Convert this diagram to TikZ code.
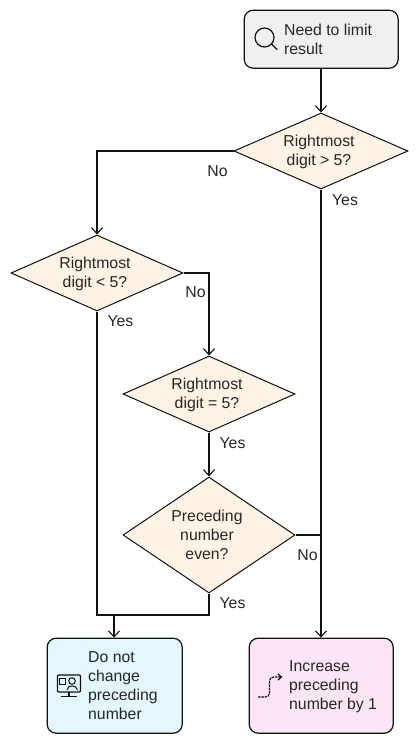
\documentclass[tikz,border=0pt]{standalone}
\usepackage{fontspec}
\setmainfont{Liberation Sans}
\usetikzlibrary{shapes.geometric,arrows.meta}
\definecolor{startfill}{HTML}{F0F0F0}
\definecolor{decfill}{HTML}{FFF3E6}
\definecolor{keepfill}{HTML}{E4F7FF}
\definecolor{incfill}{HTML}{FCE6F5}
\definecolor{ink}{HTML}{111111}
\tikzset{
  x=1pt,y=-1pt,
  txt/.style={font=\fontsize{15.8}{19}\selectfont,text=black!85},
  boxnode/.style={draw=ink,line width=1.2pt,rounded corners=9pt,anchor=north west,inner sep=0pt},
  decision/.style={diamond,draw=ink,line width=1pt,fill=decfill,inner sep=0pt,txt,align=center},
  flow/.style={draw=ink,line width=1.1pt,-{Straight Barb[length=6pt,width=11pt,line width=1.1pt]}},
  plainflow/.style={draw=ink,line width=1.1pt},
  lab/.style={txt,inner sep=0pt},
  icon/.style={draw=ink,line width=1pt},
}
\begin{document}
\begin{tikzpicture}
\useasboundingbox (0,0) rectangle (418,745);
% boxes
\node[boxnode,fill=startfill,minimum width=154pt,minimum height=58pt] (start) at (243.6,9.6) {};
\node[boxnode,fill=keepfill,minimum width=135pt,minimum height=95pt] (keep) at (46.6,637.6) {};
\node[boxnode,fill=incfill,minimum width=144pt,minimum height=95pt] (inc) at (248.6,637.6) {};
% decisions
\node[decision,minimum width=174pt,minimum height=76pt,aspect=2.29] (d1) at (321,151) {};
\node[decision,minimum width=172pt,minimum height=76pt,aspect=2.26] (d2) at (97,273) {};
\node[decision,minimum width=172pt,minimum height=76pt,aspect=2.26] (d3) at (209,394) {};
\node[decision,minimum width=172pt,minimum height=116pt,aspect=1.48] (d4) at (209,535) {};
% texts
\node[txt,align=left,anchor=west,inner sep=0pt] (starttext) at (284,39.5) {Need to limit\\result};
\node[txt,align=center,inner sep=0pt] (d1text) at (319,151.5) {Rightmost\\digit > 5?};
\node[txt,align=center,inner sep=0pt] (d2text) at (95,273.5) {Rightmost\\digit < 5?};
\node[txt,align=center,inner sep=0pt] (d3text) at (207,394.5) {Rightmost\\digit = 5?};
\node[txt,align=center,inner sep=0pt] (d4text) at (207,535) {Preceding\\number\\even?};
\node[txt,align=left,anchor=west,inner sep=0pt] (keeptext) at (88,686) {Do not\\change\\preceding\\number};
\node[txt,align=left,anchor=west,inner sep=0pt] (inctext) at (289,686.5) {Increase\\preceding\\number by 1};
% helper coordinates
\coordinate (c1) at (97,151);
\coordinate (c2) at (209,273);
\coordinate (c3) at (97,615);
\coordinate (c4) at (209,615);
\coordinate (c5) at (114,615);
\coordinate (c6) at (321,535);
% connectors
\draw[flow] (start.south -| d1.north) -- (d1.north);
\draw[flow] (d1.west) -- (c1) -- (d2.north);
\draw[flow] (d1.south) -- (inc.north -| d1.south);
\draw[flow] (d2.east) -- (c2) -- (d3.north);
\draw[plainflow] (d2.south) -- (c3) -- (c4) -- (d4.south);
\draw[flow] (c5) -- (keep.north -| c5);
\draw[flow] (d3.south) -- (d4.north);
\draw[plainflow] (d4.east) -- (c6);
% labels
\node[lab] (l1) at (217.5,171) {No};
\node[lab] (l2) at (345,200) {Yes};
\node[lab] (l3) at (195.5,292) {No};
\node[lab] (l4) at (120.5,321) {Yes};
\node[lab] (l5) at (232.5,443) {Yes};
\node[lab] (l6) at (307.5,555) {No};
\node[lab] (l7) at (232.5,603) {Yes};
% magnifier icon
\draw[icon,line width=1.2pt] (264.5,37.5) circle (9.5pt);
\draw[icon,line width=1.2pt,line cap=round] (271.5,44) -- (277,49.5);
% monitor icon
\draw[icon,rounded corners=1pt,line width=1.1pt] (57.5,675) rectangle (80.5,692);
\draw[icon,line width=1.1pt] (69,692) -- (69,696);
\draw[icon,line width=1.1pt] (61,696.5) -- (77,696.5);
\draw[icon,line width=0.9pt] (59.5,678.5) rectangle (65.5,684.5);
\draw[icon,line width=1pt] (72,681) circle (3.3pt);
\draw[icon,line width=1pt] (67,690) .. controls (67.5,684.5) and (76.5,684.5) .. (77.5,690);
% route icon
\draw[icon,line width=1.2pt,dash pattern=on 2.5pt off 0.8pt,rounded corners=4pt] (258,697) -- (269.5,697) -- (269.5,677) -- (281,677);
\draw[icon,line width=1.2pt,line cap=round] (278,674) -- (281.5,677) -- (278,680);
\end{tikzpicture}
\end{document}
